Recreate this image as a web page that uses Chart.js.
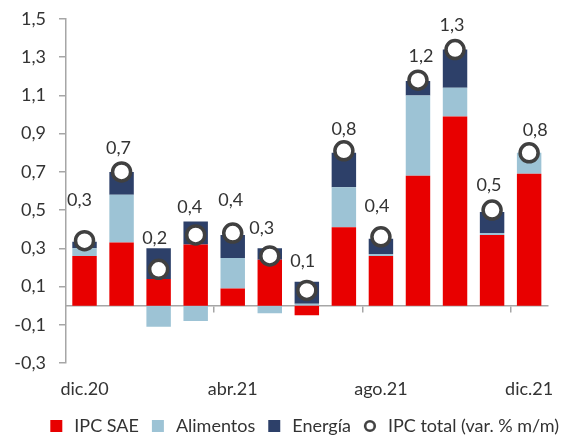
<!DOCTYPE html>
<html lang="es">
<head>
  <meta charset="UTF-8">
  <title>IPC: incidencias mensuales</title>
  <script src="https://cdn.jsdelivr.net/npm/chart.js"></script>
  <style>
    body {
      margin: 0;
      background: #fff;
    }
    #grafico {
      display: block;
    }
  </style>
</head>
<body>
  <canvas id="grafico" width="569" height="435"></canvas>

  <script>
    // Meses (dic.20 a dic.21)
    const meses = ['dic.20', 'ene.21', 'feb.21', 'mar.21', 'abr.21', 'may.21', 'jun.21',
                   'jul.21', 'ago.21', 'sep.21', 'oct.21', 'nov.21', 'dic.21'];
    // Incidencias en la variación mensual (puntos porcentuales)
    const ipcSAE    = [0.26, 0.33, 0.14, 0.32, 0.09, 0.24, -0.05, 0.41, 0.26, 0.68, 0.99, 0.37, 0.69];
    const alimentos = [0.04, 0.25, -0.11, -0.08, 0.16, -0.04, 0.01, 0.21, 0.01, 0.42, 0.15, 0.01, 0.11];
    const energia   = [0.035, 0.12, 0.16, 0.12, 0.12, 0.06, 0.115, 0.18, 0.08, 0.075, 0.20, 0.11, 0];
    // IPC total (var. % m/m)
    const ipcTotal  = [0.34, 0.70, 0.19, 0.37, 0.38, 0.26, 0.08, 0.81, 0.36, 1.18, 1.34, 0.50, 0.80];
    // Marcas del eje Y
    const ticksY = [-0.3, -0.1, 0.1, 0.3, 0.5, 0.7, 0.9, 1.1, 1.3, 1.5];

    // Ajustes manuales de posición de las etiquetas (dx, dy respecto al marcador)
    const desplazEtiquetas = [[-5, -41], [-3, -24], [-4, -31], [-6, -28], [-2, -33], [-8, -28], [-4, -29],
                              [0, -22], [-4, -31], [3, -24], [-3, -24], [-3, -25], [6, -23]];

    const FUENTE = 'Lato, "DejaVu Sans", sans-serif';
    const TAM = 18;
    const TEXTO = '#333333';
    const EJE = '#a6a6a6';
    const coma = v => v.toFixed(1).replace('.', ',');

    // Círculo blanco con borde oscuro para la leyenda
    function circuloLeyenda() {
      const c = document.createElement('canvas');
      c.width = 14; c.height = 14;
      const g = c.getContext('2d');
      g.beginPath();
      g.arc(7, 7, 4.8, 0, Math.PI * 2);
      g.fillStyle = '#fff';
      g.fill();
      g.lineWidth = 2.6;
      g.strokeStyle = '#404040';
      g.stroke();
      return c;
    }

    // Etiquetas con el valor del IPC total sobre cada marcador
    const etiquetasTotal = {
      id: 'etiquetasTotal',
      afterDatasetsDraw(chart) {
        const meta = chart.getDatasetMeta(3);
        const ctx = chart.ctx;
        ctx.save();
        ctx.font = TAM + 'px ' + FUENTE;
        ctx.fillStyle = TEXTO;
        ctx.textAlign = 'center';
        ctx.textBaseline = 'middle';
        meta.data.forEach((pt, i) => {
          const [dx, dy] = desplazEtiquetas[i];
          ctx.fillText(coma(ipcTotal[i]), pt.x + dx, pt.y + dy);
        });
        ctx.restore();
      }
    };

    // La leyenda ocupa menos alto que el que calcula Chart.js
    const altoLeyenda = {
      id: 'altoLeyenda',
      beforeLayout(chart) {
        const ley = chart.legend;
        if (ley && !ley._altoFijo) {
          const fitOrig = ley.fit;
          ley.fit = function () {
            fitOrig.call(this);
            this.height = 28;
          };
          ley._altoFijo = true;
        }
      }
    };

    const barra = (label, data, color) => ({
      type: 'bar',
      label: label,
      data: data,
      backgroundColor: color,
      borderWidth: 0,
      categoryPercentage: 1,
      barPercentage: 0.66,
      order: 1,
      pointStyle: 'rect'
    });

    new Chart(document.getElementById('grafico'), {
      data: {
        labels: meses,
        datasets: [
          barra('IPC SAE', ipcSAE, '#e80000'),
          barra('Alimentos', alimentos, '#9dc3d5'),
          barra('Energía', energia, '#2d4069'),
          {
            type: 'line',
            label: 'IPC total (var. % m/m)',
            data: ipcTotal,
            showLine: false,
            pointRadius: 9,
            pointHoverRadius: 9,
            pointBorderWidth: 3.5,
            pointBackgroundColor: '#ffffff',
            pointBorderColor: '#404040',
            borderColor: '#404040',
            backgroundColor: '#ffffff',
            order: 0
          }
        ]
      },
      options: {
        responsive: false,
        animation: false,
        layout: { autoPadding: false, padding: { left: 0, right: 0, top: 19, bottom: 0 } },
        scales: {
          // eje en el cero: línea y marcas cada cuatro meses
          x: {
            stacked: true,
            position: { y: 0 },
            offset: true,
            ticks: { display: false, autoSkip: false },
            border: { display: true, color: EJE, width: 1.5 },
            grid: {
              offset: true,
              drawOnChartArea: false,
              drawTicks: true,
              tickLength: 6,
              lineWidth: 1.5,
              color: c => (c.index % 4 === 0 && c.index > 0) ? EJE : 'rgba(0,0,0,0)'
            }
          },
          // rótulos de los meses abajo
          x2: {
            type: 'category',
            position: 'bottom',
            offset: true,
            border: { display: false },
            grid: { display: false, drawTicks: false },
            ticks: {
              autoSkip: false,
              maxRotation: 0,
              padding: 15,
              color: TEXTO,
              font: { family: FUENTE, size: TAM },
              callback: (v, i) => i % 4 === 0 ? meses[i] : ''
            },
            afterFit: s => { s.height = 44; }
          },
          y: {
            stacked: true,
            min: -0.3,
            max: 1.5,
            afterBuildTicks: s => { s.ticks = ticksY.map(v => ({ value: v })); },
            ticks: {
              padding: 13,
              color: TEXTO,
              font: { family: FUENTE, size: TAM },
              callback: v => coma(v)
            },
            border: { display: true, color: EJE, width: 1.5 },
            grid: {
              drawOnChartArea: false,
              drawTicks: true,
              tickLength: 7,
              lineWidth: 1.5,
              color: EJE
            },
            // ancho fijo y sin margen extra arriba por el padding de los rótulos
            afterFit: s => {
              s.width = 66;
              s.paddingTop = 0;
              s.paddingBottom = 0;
            }
          },
          // margen derecho del área de trazado
          yDer: {
            position: 'right',
            display: true,
            ticks: { display: false },
            grid: { display: false, drawTicks: false },
            border: { display: false },
            afterFit: s => { s.width = 21; }
          }
        },
        plugins: {
          tooltip: { enabled: false },
          legend: {
            position: 'bottom',
            align: 'end',
            labels: {
              usePointStyle: true,
              boxHeight: 12,
              padding: 10,
              color: TEXTO,
              font: { family: FUENTE, size: TAM },
              sort: (a, b) => a.datasetIndex - b.datasetIndex,
              generateLabels: chart => {
                const items = Chart.defaults.plugins.legend.labels.generateLabels(chart);
                items.forEach(it => {
                  if (it.datasetIndex === 3) {
                    it.pointStyle = circuloLeyenda();
                  } else {
                    it.pointStyle = 'rect';
                    it.lineWidth = 0;
                  }
                });
                return items;
              }
            }
          }
        }
      },
      plugins: [etiquetasTotal, altoLeyenda]
    });
  </script>
</body>
</html>
